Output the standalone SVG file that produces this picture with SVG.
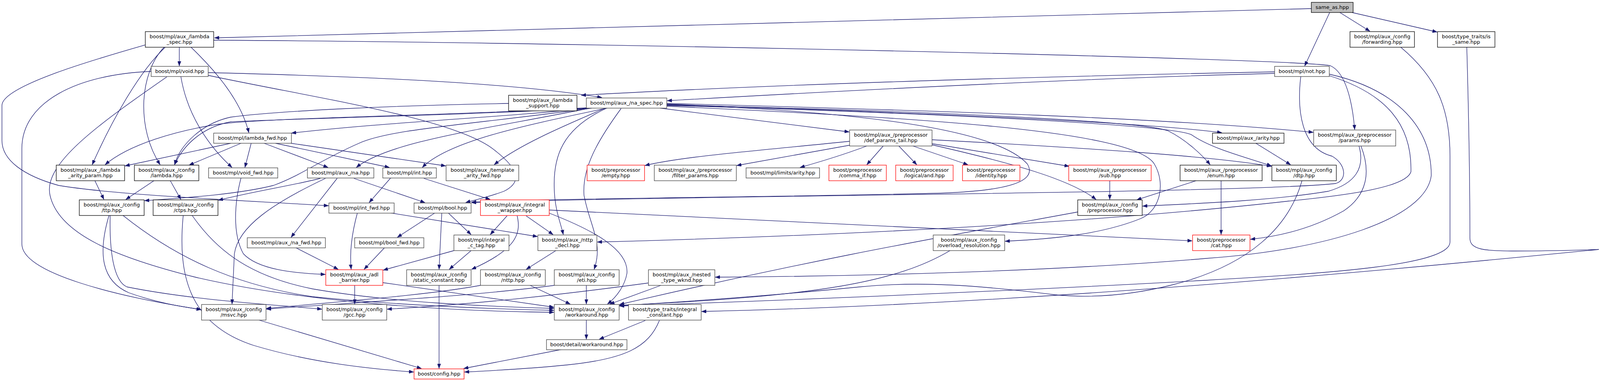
<svg xmlns="http://www.w3.org/2000/svg" width="4116" height="976" viewBox="0 0 4116 976">
<style>
rect{fill:#fff;stroke:#404040;stroke-width:1.3}
rect.red{stroke:#ff0000}
rect.cur{fill:#bfbfbf;stroke:#000}
text{font-family:"DejaVu Sans","Liberation Sans",sans-serif;font-size:13px;fill:#000;text-anchor:middle}
path.e{fill:none;stroke:#191970;stroke-width:1.3;marker-end:url(#a)}
</style>
<defs>
<marker id="a" markerWidth="12" markerHeight="9" refX="12" refY="4.5" orient="auto" markerUnits="userSpaceOnUse"><path d="M0,0 L12,4.5 L0,9 z" fill="#191970" stroke="#191970" stroke-width="0.5"/></marker>
</defs>
<rect x="0" y="0" width="4116" height="976" style="fill:#fff;stroke:none"/>
<g id="edges">
<path class="e" d="M3357,22 C2500,45 1200,80 549,97"/>
<path class="e" d="M3404,32 L3340,169"/>
<path class="e" d="M3430,32 L3507,80"/>
<path class="e" d="M3461,32 L3679,82"/>
<path class="e" d="M459,121 L459,169"/>
<path class="e" d="M489,121 C540,170 615,250 637,340"/>
<path class="e" d="M423,121 C360,180 290,300 236,422"/>
<path class="e" d="M420,121 C355,190 350,330 410,422"/>
<path class="e" d="M372,115 C250,150 5,220 5,270 L5,360 C5,410 60,450 150,475 C300,500 600,512 841,527"/>
<path class="e" d="M547,103 C1500,108 3300,150 3405,168 C3445,185 3462,260 3468,332"/>
<path class="e" d="M463,196 C480,300 540,380 594,429"/>
<path class="e" d="M387,183 C200,190 56,260 56,380 L56,625 C56,700 300,760 515,793"/>
<path class="e" d="M533,193 C800,250 1150,300 1260,380 C1340,440 1330,470 1290,490 C1250,505 1215,512 1192,519"/>
<path class="e" d="M533,186 C900,195 1300,210 1541,250"/>
<path class="e" d="M427,197 C250,320 110,420 128,500 C150,600 300,660 500,710 C800,780 1200,798 1418,800"/>
<path class="e" d="M591,367 L320,425"/>
<path class="e" d="M617,367 L484,423"/>
<path class="e" d="M643,367 L627,429"/>
<path class="e" d="M676,367 L840,429"/>
<path class="e" d="M705,367 L997,429"/>
<path class="e" d="M745,367 L1141,425"/>
<path class="e" d="M1505,277 C1300,300 1000,312 746,341"/>
<path class="e" d="M1503,276 C1200,295 700,300 560,318 C450,335 330,370 269,422"/>
<path class="e" d="M1504,277 C1200,295 700,305 591,312 C520,325 470,370 447,422"/>
<path class="e" d="M1302,265 C1000,270 700,285 591,300 C520,315 460,370 447,422"/>
<path class="e" d="M1515,277 C1200,320 1000,330 919,367 C820,410 770,450 700,475 C600,500 450,508 370,514"/>
<path class="e" d="M1510,277 C1250,330 1000,360 912,429"/>
<path class="e" d="M1554,277 C1350,320 1150,360 1081,429"/>
<path class="e" d="M1547,278 C1450,320 1330,370 1265,422"/>
<path class="e" d="M1551,278 C1440,330 1415,400 1419,487 C1421,540 1435,570 1442,601"/>
<path class="e" d="M1590,278 C1530,360 1490,430 1495,500 C1510,580 1545,620 1521,690"/>
<path class="e" d="M1707,268 C2200,285 2550,330 2630,420 C2660,470 2560,490 2400,495 C2000,505 1400,508 1207,518"/>
<path class="e" d="M1707,272 C2300,300 2900,330 2955,420 C2985,470 2970,540 2920,560 C2820,600 2700,612 2573,618"/>
<path class="e" d="M1690,277 L2174,338"/>
<path class="e" d="M1707,265 C2400,283 3000,303 3362,339"/>
<path class="e" d="M1707,267 C2300,288 2900,310 3128,340"/>
<path class="e" d="M1707,269 C2400,285 2920,310 2990,335 C3040,360 3080,400 3098,422"/>
<path class="e" d="M1707,270 C2400,290 3000,320 3050,345 C3100,380 3180,400 3255,425"/>
<path class="e" d="M3263,184 C2700,195 2000,215 1488,244"/>
<path class="e" d="M3263,188 C2800,200 2200,230 1708,258"/>
<path class="e" d="M3330,196 C3320,280 3330,380 3410,400 C3445,420 3450,460 3420,470 C3200,495 1800,500 1207,519"/>
<path class="e" d="M3403,194 C3550,240 3615,320 3612,440 C3600,480 3450,500 3300,515 C2900,560 2300,600 1529,620"/>
<path class="e" d="M3403,190 C3580,230 3665,330 3664,450 C3650,560 3400,640 3087,662 C2700,695 2200,708 1831,710"/>
<path class="e" d="M3479,374 C3495,430 3470,470 3400,490 C3250,515 3050,522 2925,528"/>
<path class="e" d="M3484,374 C3510,440 3500,500 3440,540 C3360,585 3280,605 3201,613"/>
<path class="e" d="M3215,367 L3304,422"/>
<path class="e" d="M2386,358 C2800,380 3100,400 3255,426"/>
<path class="e" d="M3126,463 L3126,601"/>
<path class="e" d="M3062,463 L2910,512"/>
<path class="e" d="M2841,463 L2841,511"/>
<path class="e" d="M2386,371 C2600,420 2740,460 2806,511"/>
<path class="e" d="M2386,368 L2737,426"/>
<path class="e" d="M2261,374 L2219,422"/>
<path class="e" d="M2301,374 L2347,422"/>
<path class="e" d="M2337,374 L2478,422"/>
<path class="e" d="M2175,362 C1950,385 1750,400 1651,424"/>
<path class="e" d="M2175,372 L1886,424"/>
<path class="e" d="M2219,374 C2150,400 2080,420 2048,429"/>
<path class="e" d="M2759,543 C2450,600 2100,660 1586,780"/>
<path class="e" d="M2432,642 C2300,720 2100,760 1586,782"/>
<path class="e" d="M3333,463 C3300,580 3200,680 3000,730 C2900,755 2800,765 2700,755 C2500,730 2350,720 2200,735 C2000,755 1800,770 1586,783"/>
<path class="e" d="M3586,121 C3680,200 3712,280 3712,400 L3712,620 C3712,680 3400,700 3087,718 C2600,745 2000,770 1586,784"/>
<path class="e" d="M3755,121 C3760,300 3763,500 3763,610 C3763,640 3800,643 3880,643 C3980,643 4060,640 4093,639 C3500,698 2600,780 1796,798"/>
<path class="e" d="M1692,731 L1561,779"/>
<path class="e" d="M1659,725 C1400,760 1200,780 991,792"/>
<path class="e" d="M1419,731 C1200,760 900,775 682,792"/>
<path class="e" d="M1501,731 L1501,779"/>
<path class="e" d="M1230,731 C1100,755 900,770 682,790"/>
<path class="e" d="M1357,731 L1460,779"/>
<path class="e" d="M1124,731 L1124,944"/>
<path class="e" d="M908,731 L908,779"/>
<path class="e" d="M980,724 L1418,787"/>
<path class="e" d="M279,552 C250,650 260,720 330,750 C400,775 460,785 515,793"/>
<path class="e" d="M282,552 C280,640 290,720 325,735 C500,770 700,780 824,792"/>
<path class="e" d="M315,552 C450,660 600,730 800,760 C1000,780 1200,790 1418,795"/>
<path class="e" d="M469,552 C455,700 480,830 650,885 C800,930 950,945 1059,953"/>
<path class="e" d="M492,552 C560,650 650,710 800,740 C1000,775 1250,785 1418,790"/>
<path class="e" d="M663,820 L1079,944"/>
<path class="e" d="M243,463 L266,511"/>
<path class="e" d="M394,463 L322,511"/>
<path class="e" d="M436,463 L463,511"/>
<path class="e" d="M820,457 C750,475 650,490 559,513"/>
<path class="e" d="M833,457 C700,520 610,580 600,650 L594,779"/>
<path class="e" d="M863,457 L745,608"/>
<path class="e" d="M906,457 L1088,519"/>
<path class="e" d="M1000,456 L945,519"/>
<path class="e" d="M1085,457 L1255,511"/>
<path class="e" d="M915,545 C900,600 895,650 899,690"/>
<path class="e" d="M997,545 L1376,606"/>
<path class="e" d="M758,635 L866,690"/>
<path class="e" d="M984,635 L932,690"/>
<path class="e" d="M1162,642 L981,692"/>
<path class="e" d="M1206,642 L1150,690"/>
<path class="e" d="M1114,545 L1017,608"/>
<path class="e" d="M1131,545 L1124,690"/>
<path class="e" d="M1147,545 L1206,601"/>
<path class="e" d="M1298,553 L1255,601"/>
<path class="e" d="M1324,553 C1335,600 1320,640 1207,690"/>
<path class="e" d="M1347,553 L1416,601"/>
<path class="e" d="M1406,546 C1520,590 1610,640 1605,700 C1600,730 1580,760 1555,779"/>
<path class="e" d="M1406,538 L3052,617"/>
<path class="e" d="M1423,642 L1347,690"/>
<path class="e" d="M1501,820 L1501,869"/>
<path class="e" d="M1652,821 L1534,869"/>
<path class="e" d="M1688,821 C1660,890 1600,920 1450,935 C1350,945 1250,950 1189,953"/>
<path class="e" d="M1439,895 L1187,944"/>
<path class="e" d="M617,456 C600,520 595,600 623,650 C660,690 750,700 833,703"/>
</g>
<g id="n_same"><rect class="cur" x="3357" y="6" width="107" height="26"/><text x="3410.5" y="23">same_as.hpp</text></g>
<g id="n_lspec"><rect style="stroke:#000" x="372" y="81" width="175" height="40"/><text x="459.5" y="98">boost/mpl/aux_/lambda</text><text x="459.5" y="112">_spec.hpp</text></g>
<g id="n_fwdg"><rect style="stroke:#000" x="3456" y="81" width="165" height="40"/><text x="3538.5" y="98">boost/mpl/aux_/config</text><text x="3538.5" y="112">/forwarding.hpp</text></g>
<g id="n_issame"><rect style="stroke:#000" x="3680" y="81" width="147" height="40"/><text x="3753.5" y="98">boost/type_traits/is</text><text x="3753.5" y="112">_same.hpp</text></g>
<g id="n_void"><rect x="387" y="170" width="146" height="26"/><text x="460" y="187">boost/mpl/void.hpp</text></g>
<g id="n_not"><rect x="3263" y="170" width="140" height="26"/><text x="3333" y="187">boost/mpl/not.hpp</text></g>
<g id="n_lsupp"><rect style="stroke:#000" x="1302" y="244" width="175" height="40"/><text x="1389.5" y="261">boost/mpl/aux_/lambda</text><text x="1389.5" y="275">_support.hpp</text></g>
<g id="n_naspec"><rect x="1501" y="251" width="206" height="26"/><text x="1604" y="268">boost/mpl/aux_/na_spec.hpp</text></g>
<g id="n_lfwd"><rect x="547" y="341" width="199" height="26"/><text x="646.5" y="358">boost/mpl/lambda_fwd.hpp</text></g>
<g id="n_dpt"><rect x="2175" y="333" width="211" height="41"/><text x="2280.5" y="350">boost/mpl/aux_/preprocessor</text><text x="2280.5" y="364">/def_params_tail.hpp</text></g>
<g id="n_arity"><rect style="stroke:#000" x="3104" y="341" width="183" height="26"/><text x="3195.5" y="358">boost/mpl/aux_/arity.hpp</text></g>
<g id="n_params"><rect x="3363" y="333" width="210" height="41"/><text x="3468" y="350">boost/mpl/aux_/preprocessor</text><text x="3468" y="364">/params.hpp</text></g>
<g id="n_lap"><rect style="stroke:#000" x="144" y="423" width="175" height="40"/><text x="231.5" y="440">boost/mpl/aux_/lambda</text><text x="231.5" y="454">_arity_param.hpp</text></g>
<g id="n_clam"><rect style="stroke:#000" x="344" y="423" width="165" height="40"/><text x="426.5" y="440">boost/mpl/aux_/config</text><text x="426.5" y="454">/lambda.hpp</text></g>
<g id="n_vfwd"><rect x="534" y="430" width="177" height="26"/><text x="622.5" y="447">boost/mpl/void_fwd.hpp</text></g>
<g id="n_na"><rect x="787" y="430" width="170" height="26"/><text x="872" y="447">boost/mpl/aux_/na.hpp</text></g>
<g id="n_int"><rect x="980" y="430" width="137" height="26"/><text x="1048.5" y="447">boost/mpl/int.hpp</text></g>
<g id="n_taf"><rect x="1142" y="423" width="186" height="40"/><text x="1235" y="440">boost/mpl/aux_/template</text><text x="1235" y="454">_arity_fwd.hpp</text></g>
<g id="n_empty"><rect class="red" x="1503" y="423" width="147" height="40"/><text x="1576.5" y="440">boost/preprocessor</text><text x="1576.5" y="454">/empty.hpp</text></g>
<g id="n_filter"><rect x="1675" y="423" width="210" height="40"/><text x="1780" y="440">boost/mpl/aux_/preprocessor</text><text x="1780" y="454">/filter_params.hpp</text></g>
<g id="n_limits"><rect x="1910" y="430" width="188" height="26"/><text x="2004" y="447">boost/mpl/limits/arity.hpp</text></g>
<g id="n_comma"><rect class="red" x="2122" y="423" width="147" height="40"/><text x="2195.5" y="440">boost/preprocessor</text><text x="2195.5" y="454">/comma_if.hpp</text></g>
<g id="n_and"><rect class="red" x="2293" y="423" width="147" height="40"/><text x="2366.5" y="440">boost/preprocessor</text><text x="2366.5" y="454">/logical/and.hpp</text></g>
<g id="n_ident"><rect class="red" x="2464" y="423" width="147" height="40"/><text x="2537.5" y="440">boost/preprocessor</text><text x="2537.5" y="454">/identity.hpp</text></g>
<g id="n_sub"><rect class="red" x="2736" y="423" width="211" height="40"/><text x="2841.5" y="440">boost/mpl/aux_/preprocessor</text><text x="2841.5" y="454">/sub.hpp</text></g>
<g id="n_enum"><rect style="stroke:#000" x="3021" y="423" width="210" height="40"/><text x="3126" y="440">boost/mpl/aux_/preprocessor</text><text x="3126" y="454">/enum.hpp</text></g>
<g id="n_dtp"><rect style="stroke:#000" x="3256" y="423" width="165" height="40"/><text x="3338.5" y="440">boost/mpl/aux_/config</text><text x="3338.5" y="454">/dtp.hpp</text></g>
<g id="n_ttp"><rect style="stroke:#000" x="203" y="512" width="166" height="40"/><text x="286" y="529">boost/mpl/aux_/config</text><text x="286" y="543">/ttp.hpp</text></g>
<g id="n_ctps"><rect style="stroke:#000" x="392" y="512" width="166" height="40"/><text x="475" y="529">boost/mpl/aux_/config</text><text x="475" y="543">/ctps.hpp</text></g>
<g id="n_intfwd"><rect x="842" y="520" width="167" height="26"/><text x="925.5" y="537">boost/mpl/int_fwd.hpp</text></g>
<g id="n_bool"><rect x="1060" y="520" width="146" height="26"/><text x="1133" y="537">boost/mpl/bool.hpp</text></g>
<g id="n_iw"><rect class="red" x="1230" y="512" width="176" height="40"/><text x="1318" y="529">boost/mpl/aux_/integral</text><text x="1318" y="543">_wrapper.hpp</text></g>
<g id="n_pp"><rect style="stroke:#000" x="2759" y="512" width="165" height="40"/><text x="2841.5" y="529">boost/mpl/aux_/config</text><text x="2841.5" y="543">/preprocessor.hpp</text></g>
<g id="n_nafwd"><rect x="633" y="609" width="200" height="26"/><text x="733" y="626">boost/mpl/aux_/na_fwd.hpp</text></g>
<g id="n_boolfwd"><rect x="908" y="609" width="177" height="26"/><text x="996.5" y="626">boost/mpl/bool_fwd.hpp</text></g>
<g id="n_ictag"><rect x="1162" y="602" width="141" height="40"/><text x="1232.5" y="619">boost/mpl/integral</text><text x="1232.5" y="633">_c_tag.hpp</text></g>
<g id="n_nttpdecl"><rect x="1377" y="602" width="151" height="40"/><text x="1452.5" y="619">boost/mpl/aux_/nttp</text><text x="1452.5" y="633">_decl.hpp</text></g>
<g id="n_ovl"><rect x="2389" y="602" width="183" height="40"/><text x="2480.5" y="619">boost/mpl/aux_/config</text><text x="2480.5" y="633">/overload_resolution.hpp</text></g>
<g id="n_cat"><rect class="red" x="3053" y="602" width="147" height="40"/><text x="3126.5" y="619">boost/preprocessor</text><text x="3126.5" y="633">/cat.hpp</text></g>
<g id="n_adl"><rect class="red" x="834" y="691" width="146" height="40"/><text x="907" y="708">boost/mpl/aux_/adl</text><text x="907" y="722">_barrier.hpp</text></g>
<g id="n_sc"><rect x="1041" y="691" width="165" height="40"/><text x="1123.5" y="708">boost/mpl/aux_/config</text><text x="1123.5" y="722">/static_constant.hpp</text></g>
<g id="n_nttp"><rect x="1230" y="691" width="166" height="40"/><text x="1313" y="708">boost/mpl/aux_/config</text><text x="1313" y="722">/nttp.hpp</text></g>
<g id="n_eti"><rect x="1419" y="691" width="166" height="40"/><text x="1502" y="708">boost/mpl/aux_/config</text><text x="1502" y="722">/eti.hpp</text></g>
<g id="n_nested"><rect x="1660" y="691" width="170" height="40"/><text x="1745" y="708">boost/mpl/aux_/nested</text><text x="1745" y="722">_type_wknd.hpp</text></g>
<g id="n_msvc"><rect x="516" y="780" width="165" height="40"/><text x="598.5" y="797">boost/mpl/aux_/config</text><text x="598.5" y="811">/msvc.hpp</text></g>
<g id="n_gcc"><rect x="825" y="780" width="165" height="40"/><text x="907.5" y="797">boost/mpl/aux_/config</text><text x="907.5" y="811">/gcc.hpp</text></g>
<g id="n_wa"><rect x="1419" y="780" width="166" height="40"/><text x="1502" y="797">boost/mpl/aux_/config</text><text x="1502" y="811">/workaround.hpp</text></g>
<g id="n_ic"><rect x="1609" y="780" width="186" height="40"/><text x="1702" y="797">boost/type_traits/integral</text><text x="1702" y="811">_constant.hpp</text></g>
<g id="n_dwa"><rect x="1399" y="870" width="206" height="26"/><text x="1502" y="887">boost/detail/workaround.hpp</text></g>
<g id="n_config"><rect class="red" x="1060" y="945" width="128" height="26"/><text x="1124" y="962">boost/config.hpp</text></g>
</svg>
